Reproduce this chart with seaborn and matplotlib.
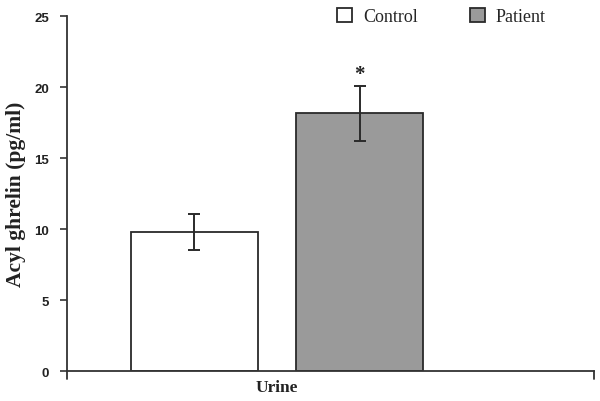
import matplotlib
matplotlib.use("Agg")
import matplotlib.pyplot as plt
import seaborn as sns
import pandas as pd
from matplotlib.patches import Patch

categories = ["Urine"]
groups = ["Control", "Patient"]
means = [9.8, 18.15]
errors = [1.25, 1.95]
yticks = [0, 5, 10, 15, 20, 25]

df = pd.DataFrame({"sample": categories * 2, "group": groups, "value": means})

sns.set_theme(style="white")
plt.rcParams["font.family"] = ["Liberation Serif", "DejaVu Serif"]

fig = plt.figure(figsize=(6, 4.02), dpi=100)
ax = fig.add_axes([0.1117, 0.0746, 0.878, 0.883])

colors = {"Control": "#ffffff", "Patient": "#9a9a9a"}
sns.barplot(data=df, x="sample", y="value", hue="group", palette=colors,
            width=0.8, gap=0.23, errorbar=None, edgecolor="#2a2a2a",
            linewidth=1.3, ax=ax, legend=False)

# error bars at the centres of the drawn bars
bars = sorted(ax.patches, key=lambda p: p.get_x())
for p, m, e in zip(bars, means, errors):
    cx = p.get_x() + p.get_width() / 2
    ax.errorbar(cx, m, yerr=e, fmt="none", ecolor="#2a2a2a", elinewidth=1.4,
                capsize=4.5, capthick=1.4)
    if m == max(means):
        ax.text(cx, m + e + 0.1, "*", ha="center", va="bottom",
                fontsize=15, fontweight="bold", color="#222222")

xl, xr = -0.509, 0.768
ax.set_xlim(xl, xr)
ax.set_ylim(0, 25)
ax.set_yticks(yticks)
ax.set_yticklabels([str(t) for t in yticks], family=["Liberation Sans"],
                   fontweight="bold", fontsize=9.5, color="#222222")
ax.set_xticks([0])
ax.set_xticklabels(categories, fontweight="bold", fontsize=12.5, color="#222222")
ax.tick_params(axis="x", length=0, pad=6)
ax.tick_params(axis="y", left=True, length=5, width=1.2, color="#333333", pad=8, direction="out")

for s in ["top", "right"]:
    ax.spines[s].set_visible(False)
for s in ["left", "bottom"]:
    ax.spines[s].set_color("#333333")
    ax.spines[s].set_linewidth(1.3)

# end marks on the x axis
for xe in (xl, xr):
    ax.plot([xe, xe], [0, -0.55], color="#333333", lw=1.3, clip_on=False)

ax.set_xlabel("")
ax.set_ylabel("Acyl ghrelin (pg/ml)", fontweight="bold", fontsize=15.5, color="#222222", labelpad=6)

handles = [Patch(facecolor=colors[g], edgecolor="#2a2a2a", linewidth=1.3, label=g) for g in groups]
fig.legend(handles=handles, loc="upper left", bbox_to_anchor=(337 / 600, 1 - 9 / 402), ncol=2,
           frameon=False, fontsize=13, handlelength=0.83, handleheight=0.83,
           columnspacing=2.9, handletextpad=0.6, borderpad=0, borderaxespad=0)

fig.savefig("out.png", dpi=100)
